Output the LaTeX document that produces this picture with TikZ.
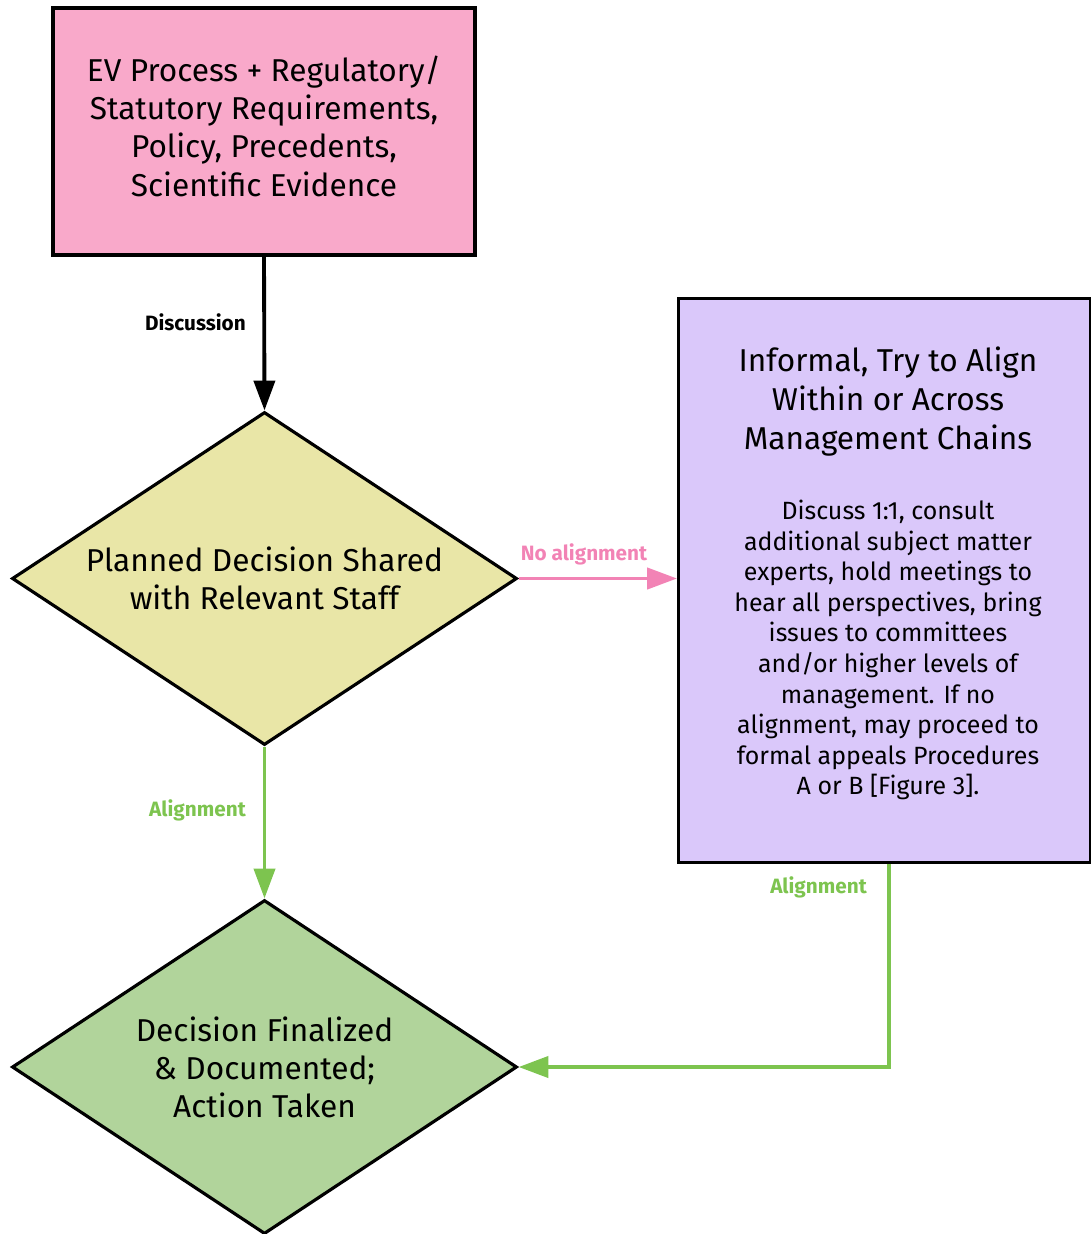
\documentclass[tikz,border=0pt]{standalone}
\usepackage{fontspec}
\setmainfont{Fira Sans}
\usetikzlibrary{shapes.geometric,arrows.meta}

\definecolor{boxpink}{HTML}{F9A9CA}
\definecolor{boxlilac}{HTML}{DAC8FA}
\definecolor{dmdyellow}{HTML}{E9E6A7}
\definecolor{dmdgreen}{HTML}{B1D49B}
\definecolor{arrpink}{HTML}{F283B5}
\definecolor{arrgreen}{HTML}{7DC44F}

\def \lineW {1.8pt}

\tikzset{
  stepbox/.style={draw, line width=\lineW, align=center, inner sep=0pt},
  choice/.style={diamond, aspect=1.5, draw, line width=\lineW, inner sep=0pt, align=center},
  flow/.style={line width=2.2pt, -{Triangle[length=17pt,width=12pt]}},
  flowlabel/.style={font=\fontsize{11.8}{14}\selectfont\bfseries}
}

\begin{document}
\begin{tikzpicture}[x=0.02cm, y=-0.02cm]
   \useasboundingbox (0,0) rectangle (1091,1234);
   \node[stepbox, fill=boxpink, minimum width=422*0.02cm, minimum height=247*0.02cm,
         font=\fontsize{18}{21.7}\selectfont] (rules) at (264,131.5)
         {EV Process + Regulatory/\\Statutory Requirements,\\Policy, Precedents,\\Scientific Evidence\rule[-0.65ex]{0pt}{0pt}};
   \node[choice, fill=dmdyellow, minimum width=505*0.02cm, minimum height=333*0.02cm,
         font=\fontsize{18}{21.7}\selectfont] (shared) at (264.5,578.5)
         {Planned Decision Shared\\with Relevant Staff};
   \node[stepbox, fill=boxlilac, minimum width=412*0.02cm, minimum height=564*0.02cm,
         anchor=north west] (informal) at (677,297) {};
   \node[align=center, font=\fontsize{18}{22}\selectfont, anchor=north] (infotitle)
         at (888,341) {Informal, Try to Align\\Within or Across\\Management Chains};
   \node[align=center, font=\fontsize{14.2}{17.4}\selectfont, anchor=north] (infobody)
         at (888,494) {Discuss 1:1, consult\\additional subject matter\\experts, hold meetings to\\hear all perspectives, bring\\issues to committees\\and/or higher levels of\\management. If no\\alignment, may proceed to\\formal appeals Procedures\\A or B [Figure 3].};
   \node[choice, fill=dmdgreen, minimum width=505*0.02cm, minimum height=334*0.02cm,
         font=\fontsize{18}{21.7}\selectfont] (final) at (264.5,1067)
         {Decision Finalized\\\& Documented;\\Action Taken};
   \coordinate (corner) at (889,1067);

   \draw[flow] (rules.south) -- (shared.north);
   \node[flowlabel, anchor=east] (discuss) at (252,322) {Discussion};
   \draw[flow, arrpink] (shared.east) -- (informal.west |- shared.east);
   \node[flowlabel, text=arrpink] (noalign) at (584,554) {No alignment};
   \draw[flow, arrgreen] (shared.south) -- (final.north);
   \node[flowlabel, text=arrgreen, anchor=east] (align1) at (252,810) {Alignment};
   \draw[flow, arrgreen] (corner |- informal.south) -- (corner) -- (final.east);
   \node[flowlabel, text=arrgreen, anchor=east] (align2) at (873,887) {Alignment};
\end{tikzpicture}
\end{document}
